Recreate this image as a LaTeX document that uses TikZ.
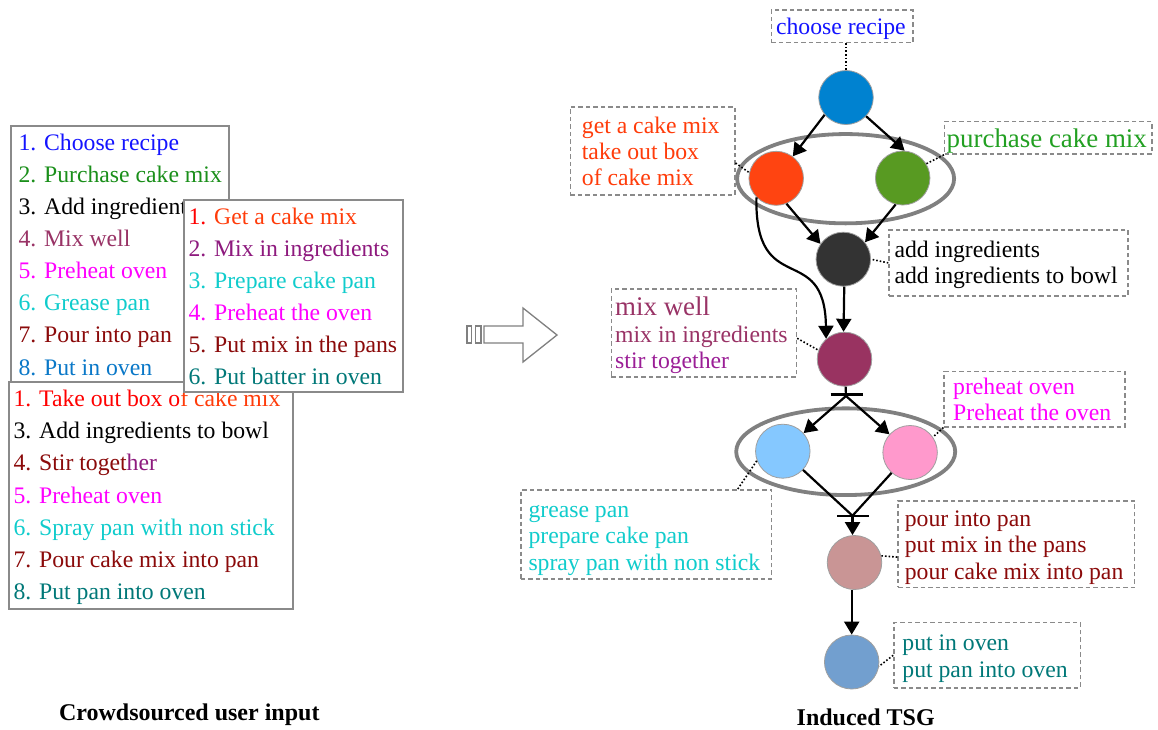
\documentclass[tikz,border=0pt]{standalone}
\usepackage{fontspec}
\setmainfont{Liberation Serif}
\usetikzlibrary{shapes.geometric,arrows.meta,calc}

% text colours
\definecolor{cBlue}{HTML}{1414FF}
\definecolor{cGreen}{HTML}{1A8F1A}
\definecolor{cTagGreen}{HTML}{22A022}
\definecolor{cMauve}{HTML}{993366}
\definecolor{cMagenta}{HTML}{FF00FF}
\definecolor{cCyan}{HTML}{10CCCC}
\definecolor{cDarkRed}{HTML}{8B0A0A}
\definecolor{cOven}{HTML}{0A78C8}
\definecolor{cRed}{HTML}{FF0000}
\definecolor{cOrange}{HTML}{FF3C0A}
\definecolor{cPurple}{HTML}{8E1A7E}
\definecolor{cStir}{HTML}{9B1E96}
\definecolor{cTeal}{HTML}{007878}
% task fills
\definecolor{fBlue}{HTML}{0082D0}
\definecolor{fRed}{HTML}{FF4411}
\definecolor{fGreen}{HTML}{589A22}
\definecolor{fDark}{HTML}{333333}
\definecolor{fMaroon}{HTML}{993361}
\definecolor{fSky}{HTML}{85C8FF}
\definecolor{fPink}{HTML}{FF99CC}
\definecolor{fRose}{HTML}{C99595}
\definecolor{fSteel}{HTML}{729FCF}
% strokes
\definecolor{frameGray}{HTML}{8A8A8A}
\definecolor{ringGray}{HTML}{808080}

\begin{document}
\begin{tikzpicture}[x=1pt,y=-1pt,
  listframe/.style={rectangle, draw=frameGray, line width=2pt, fill=white,
    inner sep=0pt, anchor=north west},
  listtext/.style={anchor=north west, inner sep=0pt, align=left,
    font=\fontsize{23.7}{32.15}\selectfont},
  tagframe/.style={rectangle, draw=frameGray, line width=1.5pt,
    dash pattern=on 4.5pt off 3pt, inner sep=0pt, anchor=north west},
  tagtext/.style={anchor=north west, inner sep=0pt, align=left,
    font=\fontsize{23.7}{26.3}\selectfont},
  task/.style={ellipse, draw=gray!75, line width=0.8pt, inner sep=0pt,
    minimum width=54.5pt, minimum height=54pt},
  group/.style={ellipse, draw=ringGray, line width=3.8pt, inner sep=0pt},
  flow/.style={line width=2.2pt, -{Triangle[length=13pt,width=15pt]}},
  plain/.style={line width=2.2pt},
  leader/.style={line width=1.6pt, dash pattern=on 1.6pt off 2pt},
  caption/.style={inner sep=0pt, font=\fontsize{24}{28}\selectfont\bfseries},
  hollow/.style={draw=ringGray, line width=1.3pt, fill=white}
]
\fill[white] (0,0) rectangle (1158,729);
\useasboundingbox (0,0) rectangle (1158,729);

% ---------------- user lists ----------------
\node[listframe, minimum width=218.3pt, minimum height=260pt] (list1) at (10,125) {};
\node[listtext] (list1text) at (18.3,127.3) {%
\textcolor{cBlue}{1. Choose recipe}\strut\\
\textcolor{cGreen}{2. Purchase cake mix}\strut\\
3. Add ingredients\strut\\
\textcolor{cMauve}{4. Mix well}\strut\\
\textcolor{cMagenta}{5. Preheat oven}\strut\\
\textcolor{cCyan}{6. Grease pan}\strut\\
\textcolor{cDarkRed}{7. Pour into pan}\strut\\
\textcolor{cOven}{8. Put in oven}\strut};

\node[listframe, minimum width=283.4pt, minimum height=227.6pt] (list3) at (8.3,380.7) {};
\node[listtext] (list3text) at (13.3,383.9) {%
\textcolor{cRed}{1. Take out box o}\textcolor{cOrange}{f cake mix}\strut\\
3. Add ingredients to bowl\strut\\
\textcolor{cDarkRed}{4. Stir toget}\textcolor{cPurple}{her}\strut\\
\textcolor{cMagenta}{5. Preheat oven}\strut\\
\textcolor{cCyan}{6. Spray pan with non stick}\strut\\
\textcolor{cDarkRed}{7. Pour cake mix into pan}\strut\\
\textcolor{cTeal}{8. Put pan into oven}\strut};

\node[listframe, minimum width=219.6pt, minimum height=191.7pt] (list2) at (182.7,199) {};
\node[listtext] (list2text) at (188.3,201.3) {%
\textcolor{cRed}{1. }\textcolor{cOrange}{Get a cake mix}\strut\\
\textcolor{cPurple}{2. Mix in ingredients}\strut\\
\textcolor{cCyan}{3. Prepare cake pan}\strut\\
\textcolor{cMagenta}{4. Preheat the oven}\strut\\
\textcolor{cDarkRed}{5. Put mix in the pans}\strut\\
\textcolor{cTeal}{6. Put batter in oven}\strut};

\node[caption] (leftcap) at (189.3,715) {Crowdsourced user input};

% ---------------- striped block arrow ----------------
\draw[hollow] (467,326) rectangle (471.5,343);
\draw[hollow] (475.5,326) rectangle (481,343);
\draw[hollow] (484,326) -- (523,326) -- (523,308) -- (557,335)
  -- (523,362) -- (523,343) -- (484,343) -- cycle;

% ---------------- induced graph ----------------
\node[group, minimum width=217pt, minimum height=89.3pt] (ring1) at (845.6,178.7) {};
\node[group, minimum width=219pt, minimum height=86.7pt] (ring2) at (845.7,451.7) {};

\node[task, fill=fBlue]   (nA) at (846,97.5) {};
\node[task, fill=fRed]    (nB) at (776.2,178.3) {};
\node[task, fill=fGreen]  (nC) at (902.7,178) {};
\node[task, fill=fDark]   (nD) at (843.3,259.2) {};
\node[task, fill=fMaroon] (nE) at (844.5,359.2) {};
\node[task, fill=fSky]    (nF) at (782.8,451.2) {};
\node[task, fill=fPink]   (nG) at (910.1,452.5) {};
\node[task, fill=fRose]   (nH) at (854.5,562.5) {};
\node[task, fill=fSteel]  (nI) at (851.7,662) {};

\coordinate (j1) at (846,396);
\coordinate (j1L) at (830.6,394.5);
\coordinate (j1R) at (862.6,394.5);
\coordinate (j2) at (852.5,515.7);
\coordinate (j2L) at (837.2,515.7);
\coordinate (j2R) at (868.7,515.7);

\draw[flow] (nA.219) -- (nB.53);
\draw[flow] (nA.-43) -- (nC.86);
\draw[flow] (nB.-68) -- (nD.146);
\draw[flow] (nC.-105) -- (nD.38);
\draw[flow] (nB.224) .. controls +(-1.8,102.9) and +(-1.3,-99.1) .. (nE.132);
\draw[flow] (nD.-88) -- (nE.92);
\draw[plain] (nE) -- (j1);
\draw[plain] (j1L) -- (j1R);
\draw[flow] (j1) -- (nF);
\draw[flow] (j1) -- (nG);
\draw[plain] (nF) -- (j2);
\draw[plain] (nG) -- (j2);
\draw[plain] (j2L) -- (j2R);
\draw[flow] (j2) -- (j2 |- nH.north);
\draw[flow] (nI.north |- nH.south) -- (nI.north);

% ---------------- step labels ----------------
\node[tagframe, minimum width=141.6pt, minimum height=32.4pt] (fChoose) at (770.6,9.3) {};
\node[tagtext] (tChoose) at (775.9,16.2) {\textcolor{cBlue}{choose recipe}\strut};

\node[tagframe, minimum width=164.5pt, minimum height=88.3pt] (fGet) at (569.5,106) {};
\node[tagtext, text=cOrange] (tGet) at (581.7,114.5) {get a cake mix\strut\\take out box\strut\\of cake mix\strut};

\node[tagframe, minimum width=207.1pt, minimum height=32.6pt] (fBuy) at (943.9,120.7) {};
\node[tagtext, text=cTagGreen, font=\fontsize{26.9}{30}\selectfont] (tBuy) at (946.5,125.9) {purchase cake mix\strut};

\node[tagframe, minimum width=239.1pt, minimum height=65.7pt] (fAdd) at (888.3,229.3) {};
\node[tagtext] (tAdd) at (894.3,238.8) {add ingredients\strut\\add ingredients to bowl\strut};

\node[tagframe, minimum width=185pt, minimum height=87.7pt] (fMix) at (610.7,288.3) {};
\node[tagtext] (tMix) at (615,296.9) {\textcolor{cMauve}{\fontsize{26.9}{30}\selectfont mix well}\strut\\
\textcolor{cMauve}{mix in ingredients}\strut\\\textcolor{cStir}{stir together}\strut};

\node[tagframe, minimum width=180.8pt, minimum height=55.3pt] (fHeat) at (943.4,370.7) {};
\node[tagtext, text=cMagenta] (tHeat) at (953,375.5) {preheat oven\strut\\Preheat the oven\strut};

\node[tagframe, minimum width=250.7pt, minimum height=89.3pt] (fPan) at (520.2,489) {};
\node[tagtext, text=cCyan] (tPan) at (528.3,498.8) {grease pan\strut\\prepare cake pan\strut\\spray pan with non stick\strut};

\node[tagframe, minimum width=236.4pt, minimum height=86.7pt] (fPour) at (897.3,500) {};
\node[tagtext, text=cDarkRed] (tPour) at (904.6,507.8) {pour into pan\strut\\put mix in the pans\strut\\pour cake mix into pan\strut};

\node[tagframe, minimum width=186.3pt, minimum height=65.6pt] (fBake) at (893.2,621.7) {};
\node[tagtext, text=cTeal] (tBake) at (902.2,632.2) {put in oven\strut\\put pan into oven\strut};

% dotted leaders from labels to steps
\draw[leader] (nA.north |- fChoose.south) -- (nA.north);
\draw[leader] ($(fGet.north east)+(0,57)$) -- (nB.168);
\draw[leader] (fBuy.south west) -- (nC.31);
\draw[leader] (fAdd.west) -- (nD.east);
\draw[leader] ($(fMix.north east)+(0,50)$) -- (nE.161);
\draw[leader] (fHeat.south west) -- (nG.34);
\draw[leader] ($(fPan.north east)+(-34.6,0)$) -- (nF.200);
\draw[leader] ($(fPour.west)+(0,13)$) -- (nH.14);
\draw[leader] (fBake.west) -- (nI.-9);

\node[caption] (rightcap) at (865.7,717.7) {Induced TSG};
\end{tikzpicture}
\end{document}
